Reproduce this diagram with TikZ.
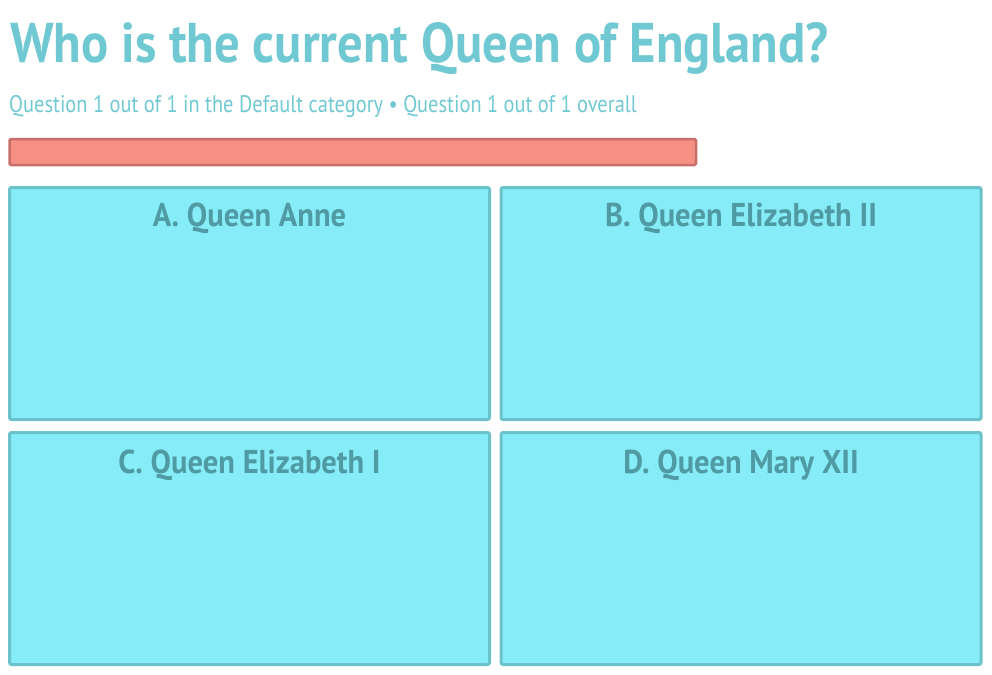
\documentclass[tikz,border=0pt]{standalone}
\usepackage{graphicx}
\usepackage{fontspec}
\setmainfont{PT Sans}
\usetikzlibrary{calc}
\definecolor{titlecol}{HTML}{70C9D2}
\definecolor{boxfill}{HTML}{86ECF7}
\definecolor{boxline}{HTML}{6BC2CB}
\definecolor{labcol}{HTML}{4F9AA3}
\definecolor{barfill}{HTML}{F68F84}
\definecolor{barline}{HTML}{C86E68}
\newcommand{\labtext}[1]{\scalebox{0.925}[1]{\bfseries #1}}
\tikzset{
  answerbox/.style={draw=boxline, fill=boxfill, line width=3pt, rounded corners=2pt, minimum width=480pt, minimum height=232pt, inner sep=0pt, outer sep=0pt},
  answerlab/.style={anchor=base, text=labcol, font=\fontsize{33}{36}\selectfont, inner sep=0pt},
  progbar/.style={draw=barline, fill=barfill, line width=2.5pt, rounded corners=1.5pt},
}
\begin{document}
\begin{tikzpicture}[x=1pt,y=-1pt]
\useasboundingbox (0,0) rectangle (992,674);
\node[anchor=base west, inner sep=0pt, text=titlecol, font=\fontsize{56}{60}\selectfont\bfseries] (title) at (10,63) {\scalebox{0.904}[1]{Who is the current Queen of England?}};
\node[anchor=base west, inner sep=0pt, text=titlecol, font=\fontsize{24}{28}\selectfont] (sub) at (9,113) {\scalebox{0.85}[1]{Question 1 out of 1 in the Default category • Question 1 out of 1 overall}};
\draw[progbar] (9.5,139) rectangle (696,165);
\node[answerbox] (A) at (249.5,303.5) {};
\node[answerbox] (B) at (741,303.5) {};
\node[answerbox] (C) at (249.5,548.5) {};
\node[answerbox] (D) at (741,548.5) {};
\node[answerlab] (la) at ($(A.north)+(0,38.5)$) {\labtext{A. Queen Anne}};
\node[answerlab] (lb) at ($(B.north)+(0,38.5)$) {\labtext{B. Queen Elizabeth II}};
\node[answerlab] (lc) at ($(C.north)+(0,40.5)$) {\labtext{C. Queen Elizabeth I}};
\node[answerlab] (ld) at ($(D.north)+(0,40.5)$) {\labtext{D. Queen Mary XII}};
\end{tikzpicture}
\end{document}
